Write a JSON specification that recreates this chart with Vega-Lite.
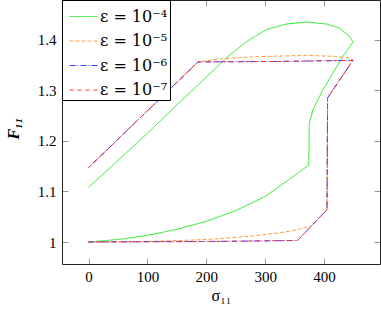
{
 "$schema": "https://vega.github.io/schema/vega-lite/v6.json",
 "width": 318, "height": 264,
 "autosize": {"type": "none"},
 "padding": {"left": 62, "top": 0, "right": 1, "bottom": 47},
 "data": {"values": [
  {"s":"ε = 10⁻⁴","k":0,"x":0,"y":1.0},
  {"s":"ε = 10⁻⁴","k":1,"x":50,"y":1.005},
  {"s":"ε = 10⁻⁴","k":2,"x":100,"y":1.013},
  {"s":"ε = 10⁻⁴","k":3,"x":150,"y":1.025},
  {"s":"ε = 10⁻⁴","k":4,"x":200,"y":1.041},
  {"s":"ε = 10⁻⁴","k":5,"x":250,"y":1.062},
  {"s":"ε = 10⁻⁴","k":6,"x":300,"y":1.09},
  {"s":"ε = 10⁻⁴","k":7,"x":340,"y":1.123},
  {"s":"ε = 10⁻⁴","k":8,"x":374,"y":1.152},
  {"s":"ε = 10⁻⁴","k":9,"x":375,"y":1.235},
  {"s":"ε = 10⁻⁴","k":10,"x":381,"y":1.261},
  {"s":"ε = 10⁻⁴","k":11,"x":398,"y":1.301},
  {"s":"ε = 10⁻⁴","k":12,"x":415,"y":1.334},
  {"s":"ε = 10⁻⁴","k":13,"x":432,"y":1.367},
  {"s":"ε = 10⁻⁴","k":14,"x":446,"y":1.39},
  {"s":"ε = 10⁻⁴","k":15,"x":449,"y":1.396},
  {"s":"ε = 10⁻⁴","k":16,"x":443,"y":1.407},
  {"s":"ε = 10⁻⁴","k":17,"x":426,"y":1.423},
  {"s":"ε = 10⁻⁴","k":18,"x":404,"y":1.431},
  {"s":"ε = 10⁻⁴","k":19,"x":370,"y":1.435},
  {"s":"ε = 10⁻⁴","k":20,"x":336,"y":1.431},
  {"s":"ε = 10⁻⁴","k":21,"x":302,"y":1.42},
  {"s":"ε = 10⁻⁴","k":22,"x":268,"y":1.396},
  {"s":"ε = 10⁻⁴","k":23,"x":234,"y":1.364},
  {"s":"ε = 10⁻⁴","k":24,"x":200,"y":1.326},
  {"s":"ε = 10⁻⁴","k":25,"x":150,"y":1.271},
  {"s":"ε = 10⁻⁴","k":26,"x":100,"y":1.215},
  {"s":"ε = 10⁻⁴","k":27,"x":50,"y":1.161},
  {"s":"ε = 10⁻⁴","k":28,"x":0,"y":1.108},
  {"s":"ε = 10⁻⁵","k":0,"x":0,"y":1.0},
  {"s":"ε = 10⁻⁵","k":1,"x":100,"y":1.001},
  {"s":"ε = 10⁻⁵","k":2,"x":155,"y":1.003},
  {"s":"ε = 10⁻⁵","k":3,"x":200,"y":1.005},
  {"s":"ε = 10⁻⁵","k":4,"x":240,"y":1.008},
  {"s":"ε = 10⁻⁵","k":5,"x":280,"y":1.012},
  {"s":"ε = 10⁻⁵","k":6,"x":324,"y":1.018},
  {"s":"ε = 10⁻⁵","k":7,"x":350,"y":1.023},
  {"s":"ε = 10⁻⁵","k":8,"x":378,"y":1.032},
  {"s":"ε = 10⁻⁵","k":9,"x":405,"y":1.064},
  {"s":"ε = 10⁻⁵","k":10,"x":406,"y":1.285},
  {"s":"ε = 10⁻⁵","k":11,"x":449,"y":1.36},
  {"s":"ε = 10⁻⁵","k":12,"x":443,"y":1.364},
  {"s":"ε = 10⁻⁵","k":13,"x":420,"y":1.367},
  {"s":"ε = 10⁻⁵","k":14,"x":370,"y":1.369},
  {"s":"ε = 10⁻⁵","k":15,"x":300,"y":1.367},
  {"s":"ε = 10⁻⁵","k":16,"x":260,"y":1.365},
  {"s":"ε = 10⁻⁵","k":17,"x":222,"y":1.362},
  {"s":"ε = 10⁻⁵","k":18,"x":186,"y":1.356},
  {"s":"ε = 10⁻⁵","k":19,"x":0,"y":1.147},
  {"s":"ε = 10⁻⁶","k":0,"x":0,"y":1.0},
  {"s":"ε = 10⁻⁶","k":1,"x":200,"y":1.001},
  {"s":"ε = 10⁻⁶","k":2,"x":355,"y":1.003},
  {"s":"ε = 10⁻⁶","k":3,"x":405,"y":1.064},
  {"s":"ε = 10⁻⁶","k":4,"x":406,"y":1.285},
  {"s":"ε = 10⁻⁶","k":5,"x":449,"y":1.359},
  {"s":"ε = 10⁻⁶","k":6,"x":320,"y":1.357},
  {"s":"ε = 10⁻⁶","k":7,"x":186,"y":1.356},
  {"s":"ε = 10⁻⁶","k":8,"x":0,"y":1.147},
  {"s":"ε = 10⁻⁷","k":0,"x":0,"y":1.0},
  {"s":"ε = 10⁻⁷","k":1,"x":200,"y":1.001},
  {"s":"ε = 10⁻⁷","k":2,"x":355,"y":1.003},
  {"s":"ε = 10⁻⁷","k":3,"x":405,"y":1.064},
  {"s":"ε = 10⁻⁷","k":4,"x":406,"y":1.285},
  {"s":"ε = 10⁻⁷","k":5,"x":449,"y":1.359},
  {"s":"ε = 10⁻⁷","k":6,"x":320,"y":1.357},
  {"s":"ε = 10⁻⁷","k":7,"x":186,"y":1.356},
  {"s":"ε = 10⁻⁷","k":8,"x":0,"y":1.147}
 ]},
 "config": {
  "font": "Liberation Serif",
  "view": {"stroke": null},
  "axis": {"grid": false, "domainColor": "#222", "domainWidth": 1, "tickColor": "#999", "tickWidth": 1, "tickSize": -6,
           "labelFont": "Liberation Serif", "labelFontSize": 15, "labelColor": "#000",
           "titleFont": "Liberation Serif", "titleFontSize": 16, "titleColor": "#000", "titleFontWeight": "normal"},
  "legend": {"orient": "top-left", "offset": 0, "padding": 2, "rowPadding": 1.5, "strokeColor": "#000", "fillColor": "#fff",
             "labelFont": "DejaVu Serif", "labelFontSize": 16, "labelColor": "#000", "labelOffset": 2, "labelLimit": 0,
             "symbolType": "stroke", "symbolSize": 784, "symbolStrokeWidth": 1, "symbolOffset": 5, "cornerRadius": 0}
 },
 "resolve": {"axis": {"x": "independent", "y": "independent"}},
 "layer": [
  {"mark": {"type": "line", "strokeWidth": 1},
   "encoding": {
    "x": {"field": "x", "type": "quantitative", "scale": {"domain": [-45, 495], "nice": false, "zero": false},
          "axis": {"orient": "bottom", "values": [0, 100, 200, 300, 400], "title": "σ₁₁", "labelPadding": 11,
                   "titleX": 159, "titleY": 36, "titleBaseline": "alphabetic", "titleAlign": "center"}},
    "y": {"field": "y", "type": "quantitative", "scale": {"domain": [0.9565, 1.4785], "nice": false, "zero": false},
          "axis": {"orient": "left", "values": [1, 1.1, 1.2, 1.3, 1.4], "format": "~g", "title": "F₁₁", "labelPadding": 12,
                   "titleX": -49, "titleY": 128, "titleAngle": -90, "titleBaseline": "middle", "titleAlign": "center",
                   "titleFontStyle": "italic", "titleFontWeight": "bold"}},
    "color": {"field": "s", "type": "nominal",
              "scale": {"domain": ["ε = 10⁻⁴", "ε = 10⁻⁵", "ε = 10⁻⁶", "ε = 10⁻⁷"], "range": ["#22ee22", "#ffa040", "#3a3aff", "#ff3030"]},
              "legend": {"title": null}},
    "strokeDash": {"field": "s", "type": "nominal",
              "scale": {"domain": ["ε = 10⁻⁴", "ε = 10⁻⁵", "ε = 10⁻⁶", "ε = 10⁻⁷"], "range": [[1, 0], [4, 2], [6, 2, 1, 2], [4, 4]]},
              "legend": {"title": null}},
    "order": {"field": "k", "type": "quantitative"}
   }},
  {"mark": {"type": "point", "opacity": 0},
   "encoding": {
    "x": {"field": "x", "type": "quantitative", "axis": {"orient": "top", "labels": false, "title": null, "values": [0, 100, 200, 300, 400]}},
    "y": {"field": "y", "type": "quantitative", "axis": {"orient": "right", "labels": false, "title": null, "values": [1, 1.1, 1.2, 1.3, 1.4]}}
   }}
 ]
}
